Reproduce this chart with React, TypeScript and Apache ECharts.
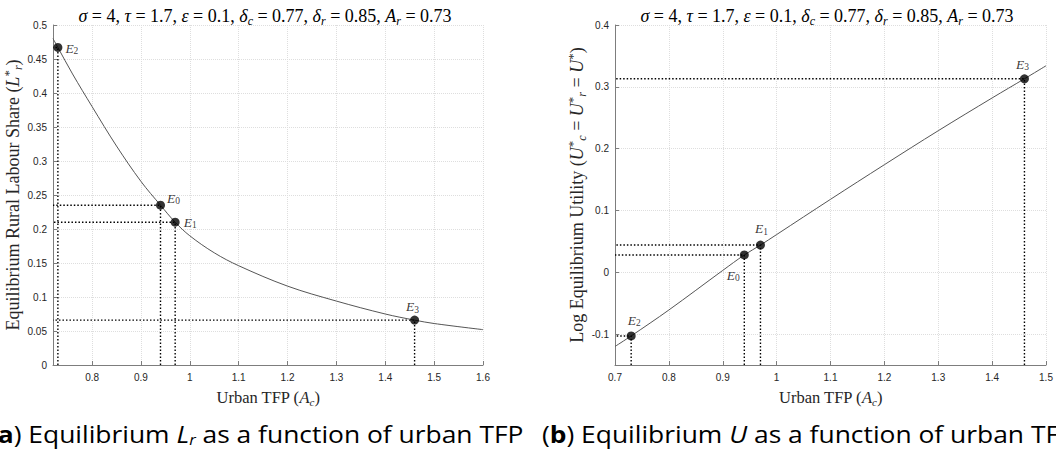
import React, { useEffect, useRef } from "react";
import * as echarts from "echarts";

// Panel (a): equilibrium rural labour share vs urban TFP
const lrX = [0.72, 0.73, 0.76, 0.8, 0.85, 0.9, 0.94, 0.97, 1.0, 1.05, 1.1, 1.2, 1.3, 1.4, 1.46, 1.5, 1.6];
const lrY = [0.48, 0.467, 0.428, 0.38, 0.322, 0.27, 0.235, 0.21, 0.19, 0.165, 0.146, 0.116, 0.094, 0.075, 0.066, 0.061, 0.052];

// Panel (b): log equilibrium utility vs urban TFP
const uX = [0.7, 0.73, 0.8, 0.9, 0.94, 0.97, 1.0, 1.1, 1.2, 1.3, 1.4, 1.46, 1.5];
const uY = [-0.12, -0.103, -0.061, 0.003, 0.028, 0.044, 0.061, 0.118, 0.174, 0.229, 0.282, 0.313, 0.334];

// Equilibria
const eqSubs = ["2", "0", "1", "3"];
const eqX = [0.73, 0.94, 0.97, 1.46];
const eqLr = [0.467, 0.235, 0.21, 0.066];
const eqU = [-0.103, 0.028, 0.044, 0.313];

// Axes
const leftXRange = [0.72, 1.6];
const leftYRange = [0, 0.5];
const leftXTicks = [0.8, 0.9, 1.0, 1.1, 1.2, 1.3, 1.4, 1.5, 1.6];
const rightXRange = [0.7, 1.5];
const rightYRange = [-0.15, 0.4];
const rightXTicks = [0.7, 0.8, 0.9, 1.0, 1.1, 1.2, 1.3, 1.4, 1.5];
const rightYTicks = [-0.1, 0, 0.1, 0.2, 0.3, 0.4];

const titleText =
  "{i|σ} = 4, {i|τ} = 1.7, {i|ε} = 0.1, {i|δ}{s|c} = 0.77, {i|δ}{s|r} = 0.85, {i|A}{s|r} = 0.73";

// label placement (styles), per equilibrium in the order of eqSubs
const leftLabelPlace = [
  { position: "right", offset: [-2, 1] },
  { position: "right", offset: [-3, -7] },
  { position: "right", offset: [-1, 0] },
  { position: "top", offset: [-2, 4] },
];
const rightLabelPlace = [
  { position: "top", offset: [3, 2] },
  { position: "bottom", offset: [-11, 3] },
  { position: "top", offset: [1, 1] },
  { position: "top", offset: [-2, 3] },
];

const SERIF = "'Liberation Serif', 'DejaVu Serif', serif";
const SANS = "'Liberation Sans', Arial, Helvetica, sans-serif";
const CAP = "'Open Sans', Roboto, sans-serif";

const richMath = (size: number, color: string) => ({
  i: { fontFamily: SERIF, fontStyle: "italic", fontSize: size, color, lineHeight: size + 4 },
  s: { fontFamily: SERIF, fontStyle: "italic", fontSize: Math.round(size * 0.68), color, verticalAlign: "bottom", lineHeight: Math.round(size * 0.7) },
  sup: { fontFamily: SERIF, fontSize: Math.round(size * 0.72), color, verticalAlign: "top", lineHeight: Math.round(size * 0.7) },
});

const axisLineColor = "#7d7d7d";

function makeXAxis(gridIndex: number, range: number[], ticks: number[]) {
  return {
    type: "value",
    gridIndex,
    min: range[0],
    max: range[1],
    name: "Urban TFP ({i|A}{s|c})",
    nameLocation: "middle",
    nameGap: 11,
    nameTextStyle: {
      fontFamily: SERIF,
      fontSize: 16.5,
      color: "#262626",
      lineHeight: 20,
      verticalAlign: "top",
      rich: richMath(16.5, "#262626"),
    },
    axisLine: { show: true, onZero: false, lineStyle: { color: axisLineColor, width: 1 } },
    axisTick: { show: true, inside: true, length: 4, customValues: ticks, lineStyle: { color: axisLineColor } },
    axisLabel: { customValues: ticks, color: "#262626", fontSize: 10, fontFamily: SANS, margin: 7 },
    splitLine: { show: true, lineStyle: { color: "#dedede", type: "dotted", width: 1 } },
  };
}

function makeYAxis(gridIndex: number, range: number[], ticks: number[] | null, name: string, nameGap: number) {
  const ax: any = {
    type: "value",
    gridIndex,
    min: range[0],
    max: range[1],
    name,
    nameLocation: "middle",
    nameGap,
    nameTextStyle: {
      fontFamily: SERIF,
      fontSize: 18,
      color: "#262626",
      lineHeight: 21,
      rich: richMath(18, "#262626"),
    },
    axisLine: { show: true, onZero: false, lineStyle: { color: axisLineColor, width: 1 } },
    axisTick: { show: true, inside: true, length: 4, lineStyle: { color: axisLineColor } },
    axisLabel: { color: "#262626", fontSize: 10, fontFamily: SANS, margin: 6 },
    splitLine: { show: true, lineStyle: { color: "#dedede", type: "dotted", width: 1 } },
  };
  if (ticks) {
    ax.axisTick.customValues = ticks;
    ax.axisLabel.customValues = ticks;
  } else {
    ax.interval = 0.05;
  }
  return ax;
}

const eLabelRich = {
  e: { fontFamily: SERIF, fontStyle: "italic", fontSize: 13.5, color: "#000", lineHeight: 16 },
  n: { fontFamily: SERIF, fontSize: 9.5, color: "#000", verticalAlign: "bottom", lineHeight: 10 },
};

function buildPanel(
  idx: number,
  xs: number[],
  ys: number[],
  ex: number[],
  ey: number[],
  xMin: number,
  yMin: number,
  place: any[]
) {
  const series: any[] = [];
  series.push({
    type: "line",
    xAxisIndex: idx,
    yAxisIndex: idx,
    data: xs.map((x, i) => [x, ys[i]]),
    showSymbol: false,
    smooth: 0.35,
    lineStyle: { color: "#555", width: 1 },
    z: 3,
  });
  ex.forEach((x, i) => {
    series.push({
      type: "line",
      xAxisIndex: idx,
      yAxisIndex: idx,
      data: [
        [x, yMin],
        [x, ey[i]],
        [xMin, ey[i]],
      ],
      showSymbol: false,
      lineStyle: { color: "#000", width: 1.4, type: [1.5, 2] },
      z: 2,
    });
  });
  series.push({
    type: "scatter",
    xAxisIndex: idx,
    yAxisIndex: idx,
    symbolSize: 9,
    itemStyle: { color: "#000" },
    z: 5,
    data: ex.map((x, i) => ({
      value: [x, ey[i]],
      label: {
        show: true,
        position: place[i].position,
        offset: place[i].offset,
        formatter: `{e|E}{n|${eqSubs[i]}}`,
        rich: eLabelRich,
      },
    })),
  });
  return series;
}

export default function App() {
  const ref = useRef<HTMLDivElement>(null);
  useEffect(() => {
    document.body.style.margin = "0";
    const chart = echarts.init(ref.current!, null, { renderer: "svg" });
    const titleStyle = {
      fontFamily: SERIF,
      fontSize: 18,
      fontWeight: "normal",
      color: "#000",
      lineHeight: 22,
      rich: richMath(18, "#000"),
    };
    const capRich = (withSub: boolean) => {
      const r: any = {
        b: { fontFamily: CAP, fontSize: 24, fontWeight: "bold", fill: "#000" },
        i: { fontFamily: CAP, fontSize: 24, fontStyle: "italic", fill: "#000", lineHeight: 28 },
      };
      if (withSub) {
        r.s = { fontFamily: CAP, fontSize: 15, fontStyle: "italic", fill: "#000", verticalAlign: "bottom", lineHeight: 16 };
      }
      return r;
    };
    const option: any = {
      animation: false,
      backgroundColor: "#fff",
      title: [
        { text: titleText, left: 260, top: 0, textAlign: "center", textStyle: titleStyle },
        { text: titleText, left: 822, top: 0, textAlign: "center", textStyle: titleStyle },
      ],
      grid: [
        { left: 53, top: 25, width: 430, height: 340 },
        { left: 615, top: 25, width: 431, height: 340 },
      ],
      xAxis: [makeXAxis(0, leftXRange, leftXTicks), makeXAxis(1, rightXRange, rightXTicks)],
      yAxis: [
        makeYAxis(0, leftYRange, null, "Equilibrium Rural Labour Share ({i|L}{sup|*}{s|r})", 23),
        makeYAxis(
          1,
          rightYRange,
          rightYTicks,
          "Log Equilibrium Utility ({i|U}{sup|*}{s|c} = {i|U}{sup|*}{s|r} = {i|U}{sup|*})",
          25
        ),
      ],
      series: [
        ...buildPanel(0, lrX, lrY, eqX, eqLr, leftXRange[0], leftYRange[0], leftLabelPlace),
        ...buildPanel(1, uX, uY, eqX, eqU, rightXRange[0], rightYRange[0], rightLabelPlace),
      ],
      graphic: [
        {
          type: "text",
          x: -10,
          y: 433,
          scaleX: 1.1,
          style: {
            text: "({b|a}) Equilibrium {i|L}{s|r} as a function of urban TFP",
            fontFamily: CAP,
            fontSize: 24,
            fill: "#000",
            verticalAlign: "middle",
            rich: capRich(true),
          },
        },
        {
          type: "text",
          x: 542,
          y: 433,
          scaleX: 1.1,
          style: {
            text: "({b|b}) Equilibrium {i|U} as a function of urban TFP",
            fontFamily: CAP,
            fontSize: 24,
            fill: "#000",
            verticalAlign: "middle",
            rich: capRich(false),
          },
        },
      ],
    };
    chart.setOption(option);
    return () => chart.dispose();
  }, []);
  return <div ref={ref} style={{ width: 1056, height: 458 }} />;
}
